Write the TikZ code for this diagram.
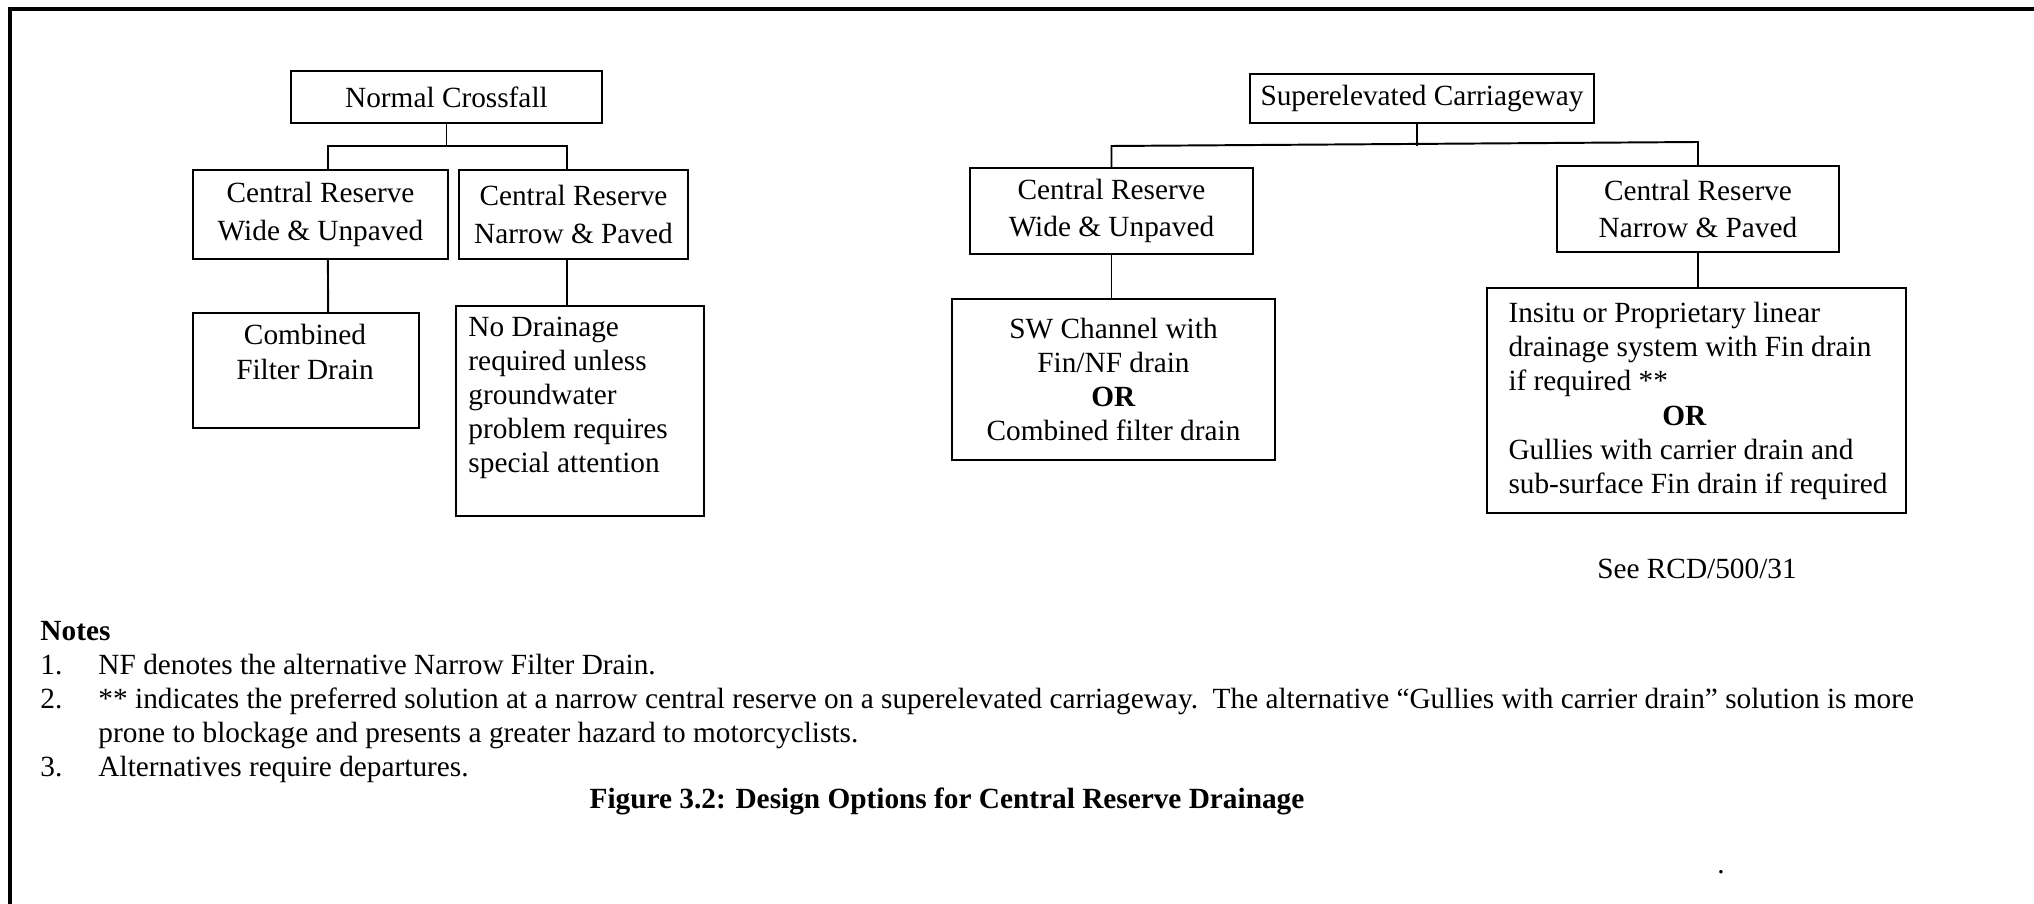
\documentclass[tikz,border=0pt]{standalone}
\usepackage{fontspec}
\setmainfont{Liberation Serif}
\usetikzlibrary{calc}
\newcommand\pxl{0.4096pt}
\begin{document}
\begin{tikzpicture}[x=0.4096pt,y=-0.4096pt,
  font=\fontsize{12}{14}\selectfont,
  bx/.style n args={2}{draw, line width=0.8pt, inner sep=0pt, anchor=north west,
    align=center, minimum width={#1*\pxl}, minimum height={#2*\pxl}},
  tx/.style={inner sep=0pt},
  ln/.style={line width=0.8pt},
  frame/.style={line width=1.6pt}]
\useasboundingbox (0,0) rectangle (2034,904);
\fill[white] (-10,-10) rectangle (2044,914);
% outer frame (left and top edges)
\coordinate (fb) at (10,910);
\coordinate (fc) at (10,9);
\coordinate (fr) at (2040,9);
\draw[frame] (fb) -- (fc) -- (fr);

% ---------- left tree ----------
\node[bx={311}{52}] (nc) at (290,70) {Normal Crossfall};
\node[bx={255}{89}] (cwl) at (192,169) {Central Reserve\\[1.4pt]Wide \& Unpaved};
\node[bx={229}{89}] (cnl) at (458,169) {Central Reserve\\[1.4pt]Narrow \& Paved};
\node[bx={226}{115}] (cfd) at (192,312) {};
\node[tx, align=center] (cfdt) at (305,352) {Combined\\Filter Drain};
\node[bx={248}{210}] (nd) at (455,305) {};
\node[tx, align=left, anchor=west] (ndt) at (468,398)
  {No Drainage\\required unless\\groundwater\\problem requires\\special attention};

\coordinate (a1) at ($(cwl.north west)!0.529!(cwl.north east)$);
\coordinate (a2) at ($(cnl.north west)!0.472!(cnl.north east)$);
\coordinate (b1) at ($(cwl.south west)!0.529!(cwl.south east)$);
\coordinate (b2) at ($(cnl.south west)!0.472!(cnl.south east)$);
\coordinate (c1) at ($(cfd.north west)!0.597!(cfd.north east)$);
\coordinate (c2) at ($(nd.north west)!0.448!(nd.north east)$);
\coordinate (jl) at ($(nc.south)+(0,22)$);
\draw[ln] (nc.south) -- (jl);
\draw[ln] (a1) |- (jl) -| (a2);
\draw[ln] (b1) -- (c1);
\draw[ln] (b2) -- (c2);

% ---------- right tree ----------
\node[bx={344}{49}] (sc) at (1249,73) {Superelevated Carriageway};
\node[bx={283}{86}] (cwr) at (969,167) {Central Reserve\\[1pt]Wide \& Unpaved};
\node[bx={282}{86}] (cnr) at (1556,165) {Central Reserve\\[1pt]Narrow \& Paved};
\node[bx={323}{161}] (sw) at (951,298)
  {SW Channel with\\Fin/NF drain\\\textbf{OR}\\Combined filter drain};
\node[bx={419}{225}] (ins) at (1486,287) {};
\node[tx, align=left, anchor=west] (inst) at (1508,401)
  {Insitu or Proprietary linear\\drainage system with Fin drain\\if required **\\\hspace*{63pt}\textbf{OR}\\Gullies with carrier drain and\\sub-surface Fin drain if required};

\coordinate (s0) at ($(sc.south west)!0.485!(sc.south east)$);
\coordinate (sj) at ($(s0)+(0,22)$);
\coordinate (r1) at ($(cwr.north)+(0,-21)$);
\coordinate (r2) at ($(cnr.north)+(0,-23)$);
\draw[ln] (s0) -- (sj);
\draw[ln] (cwr.north) -- (r1) -- (r2) -- (cnr.north);
\draw[ln] (cwr.south) -- (cwr.south |- sw.north);
\coordinate (i1) at ($(ins.north west)!0.506!(ins.north east)$);
\draw[ln] (cnr.south) -- (cnr.south |- i1);

\node[tx, anchor=base] (see) at (1697,578) {See RCD/500/31};

% ---------- notes ----------
\node[tx, anchor=base west] (notes) at (40,640) {\textbf{Notes}};
\node[tx, anchor=base west] (n1) at (40,674) {1.};
\node[tx, anchor=base west] (t1) at (98,674) {NF denotes the alternative Narrow Filter Drain.};
\node[tx, anchor=base west] (n2) at (40,708) {2.};
\node[tx, anchor=base west] (t2) at (98,708) {** indicates the preferred solution at a narrow central reserve on a superelevated carriageway.\hspace{0.5em}The alternative “Gullies with carrier drain” solution is more};
\node[tx, anchor=base west] (t2b) at (98,742) {prone to blockage and presents a greater hazard to motorcyclists.};
\node[tx, anchor=base west] (n3) at (40,776) {3.};
\node[tx, anchor=base west] (t3) at (98,776) {Alternatives require departures.};
\node[tx, anchor=base] (cap) at (947,808) {\textbf{Figure 3.2: Design Options for Central Reserve Drainage}};
\node[tx, anchor=base] (dot) at (1721,873) {.};
\end{tikzpicture}
\end{document}
